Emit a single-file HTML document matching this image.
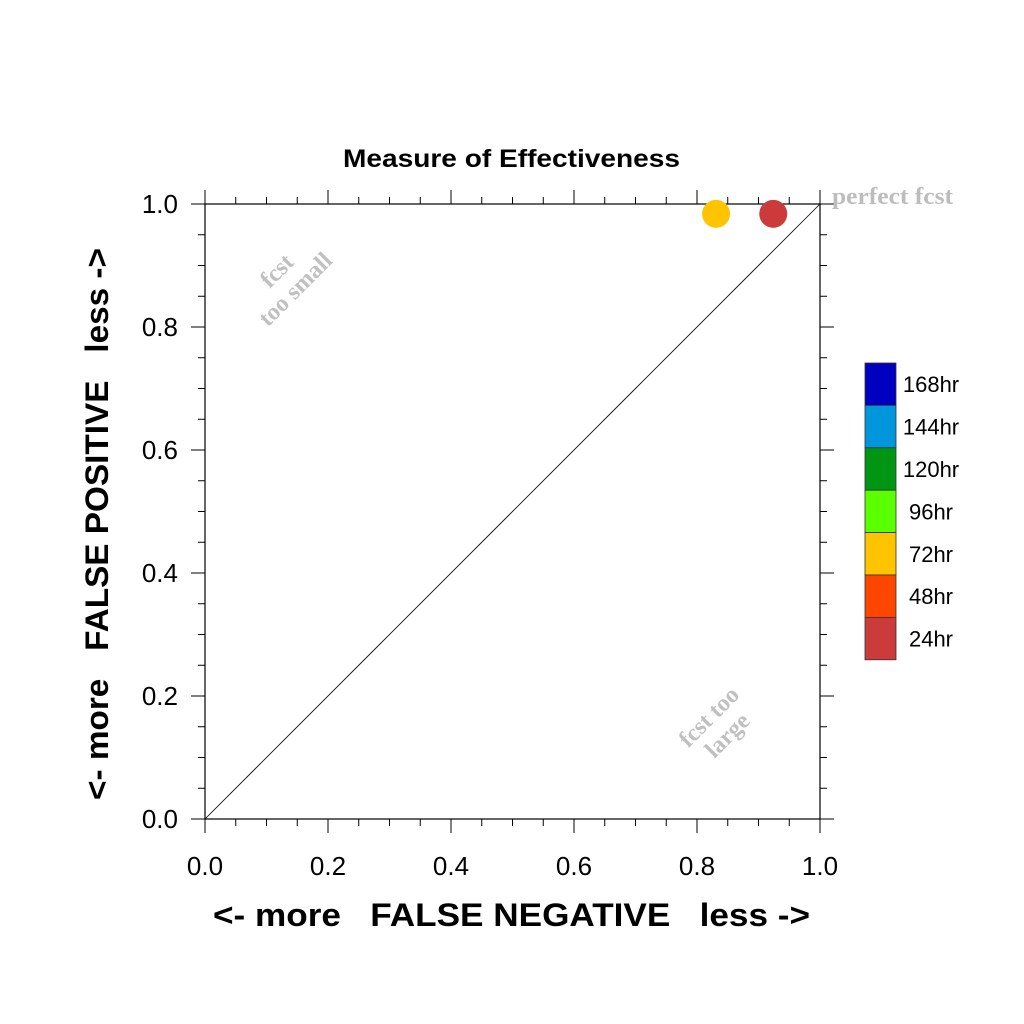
<!DOCTYPE html>
<html><head><meta charset="utf-8"><style>body{margin:0;background:#fff}svg{display:block}</style></head>
<body>
<svg id="chart" width="1024" height="1024" xmlns="http://www.w3.org/2000/svg" font-family="Liberation Sans, sans-serif">
<rect width="1024" height="1024" fill="#fff"/>
<text x="343" y="167" font-size="25" font-weight="bold" textLength="337" lengthAdjust="spacingAndGlyphs">Measure of Effectiveness</text>
<g id="axes"></g>
<line x1="205" y1="819" x2="820" y2="204" stroke="#000" stroke-width="0.8"/>
<text x="832" y="204" font-family="Liberation Serif, serif" font-weight="bold" font-size="24" fill="#bdbdbd" textLength="121" lengthAdjust="spacingAndGlyphs">perfect fcst</text>
<g transform="translate(288,282) rotate(-45)" font-family="Liberation Serif, serif" font-weight="bold" font-size="24" fill="#c0c0c0" text-anchor="middle">
<text x="0" y="-8">fcst</text><text x="0" y="18">too small</text></g>
<g transform="translate(720,728) rotate(-45)" font-family="Liberation Serif, serif" font-weight="bold" font-size="24" fill="#c0c0c0" text-anchor="middle">
<text x="0" y="-8">fcst too</text><text x="0" y="18">large</text></g>
<text x="213" y="926" font-size="32" font-weight="bold" xml:space="preserve" textLength="597" lengthAdjust="spacingAndGlyphs">&lt;- more   FALSE NEGATIVE   less -&gt;</text>
<text transform="translate(108,800) rotate(-90)" font-size="32" font-weight="bold" xml:space="preserve" textLength="552" lengthAdjust="spacingAndGlyphs">&lt;- more   FALSE POSITIVE   less -&gt;</text>
<g id="points"></g>
<g id="legend"></g>
</svg>
<script>
const xVals = [0.831, 0.924];
const yVals = [0.984, 0.984];
const pointColors = ['#ffc400', '#cc3b3b'];
const tickLabels = ['0.0','0.2','0.4','0.6','0.8','1.0'];
const legendLabels = ['168hr','144hr','120hr','96hr','72hr','48hr','24hr'];
const legendColors = ['#0000c0','#0096dc','#009614','#5aff00','#ffc400','#ff4600','#cc3b3b'];

const X0=205,X1=820,Y0=819,Y1=204;
const sx=v=>X0+(X1-X0)*v, sy=v=>Y0-(Y0-Y1)*v;
const NS='http://www.w3.org/2000/svg';
function mk(tag,attrs,parent){const e=document.createElementNS(NS,tag);for(const k in attrs)e.setAttribute(k,attrs[k]);parent.appendChild(e);return e;}
const axes=document.getElementById('axes');
const frame=mk('rect',{x:X0,y:Y1,width:X1-X0,height:Y0-Y1,fill:'none',stroke:'#000','stroke-width':1.2},axes);


for(let i=0;i<=20;i++){
  const v=i/20, major=i%4===0, L=major?14:7;
  const x=sx(v), y=sy(v);
  mk('line',{x1:x,y1:Y0,x2:x,y2:Y0+L,stroke:'#000','stroke-width':1},axes);
  mk('line',{x1:x,y1:Y1,x2:x,y2:Y1-L,stroke:'#000','stroke-width':1},axes);
  mk('line',{x1:X0,y1:y,x2:X0-L,y2:y,stroke:'#000','stroke-width':1},axes);
  mk('line',{x1:X1,y1:y,x2:X1+L,y2:y,stroke:'#000','stroke-width':1},axes);
}
tickLabels.forEach((t,i)=>{
  const v=i*0.2;
  const tx=mk('text',{x:sx(v),y:875,'text-anchor':'middle','font-size':26},axes);
  tx.textContent=t;
  
  
  const ty=mk('text',{x:178,y:sy(v)+9,'text-anchor':'end','font-size':26},axes);
  ty.textContent=t;
  
  
});
const pts=document.getElementById('points');
xVals.forEach((xv,i)=>{
  const c=mk('circle',{cx:sx(xv),cy:sy(yVals[i]),r:14,fill:pointColors[i]},pts);
  
  
});
const lg=document.getElementById('legend');
const LY=363,LH=42.4;
legendLabels.forEach((lab,i)=>{
  const r=mk('rect',{x:865,y:LY+i*LH,width:31,height:LH,fill:legendColors[i],stroke:'#333','stroke-width':0.8},lg);
  
  
  const t=mk('text',{x:931,y:LY+i*LH+LH/2+8,'text-anchor':'middle','font-size':22},lg);
  t.textContent=lab;
  
  
});
</script>
</body></html>
